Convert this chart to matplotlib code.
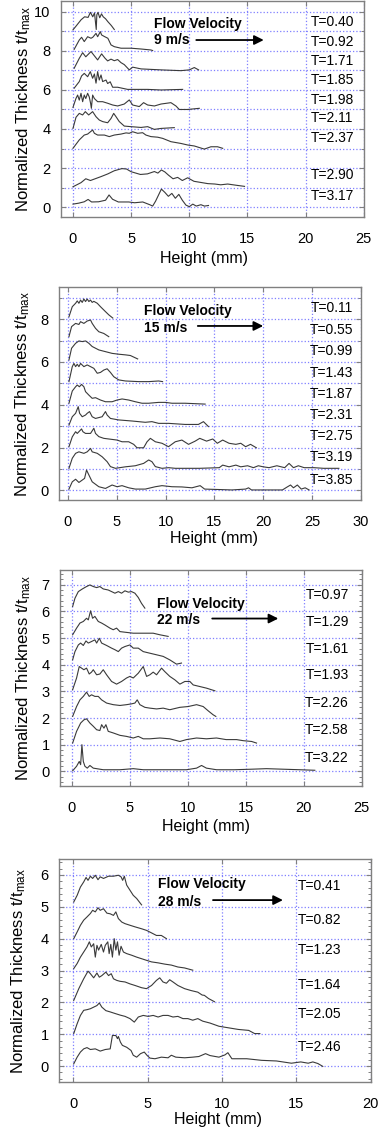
import numpy as np
import matplotlib
matplotlib.use("Agg")
import matplotlib.pyplot as plt
from matplotlib.ticker import MultipleLocator

plt.rcParams['font.family'] = 'Liberation Sans'
plt.rcParams['mathtext.fontset'] = 'custom'
plt.rcParams['mathtext.rm'] = 'Liberation Sans'
plt.rcParams['mathtext.it'] = 'Liberation Sans'

# ---- panel 1 : 9 m/s ----
p1_labels = ["T=0.40", "T=0.92", "T=1.71", "T=1.85", "T=1.98", "T=2.11", "T=2.37", "T=2.90", "T=3.17"]
p1_label_y = [9.5, 8.45, 7.5, 6.5, 5.5, 4.55, 3.55, 1.65, 0.55]

p1_t040_x = [0, 0.3, 0.7, 1.0, 1.3, 1.5, 1.7, 1.85, 2.0, 2.05, 2.15, 2.3, 2.45, 2.6, 2.8, 3.0, 3.3, 3.55]
p1_t040_y = [9.08, 9.3, 9.6, 9.75, 9.72, 9.98, 9.75, 9.95, 9.1, 9.85, 9.98, 9.7, 9.9, 9.75, 9.65, 9.5, 9.3, 9.1]
p1_t092_x = [0.1, 0.54, 0.74, 0.97, 1.26, 1.55, 1.7, 1.98, 2.12, 2.35, 2.46, 2.7, 3.0, 3.27, 3.55, 4.13, 5.0, 5.85, 6.7, 6.85]
p1_t092_y = [8.08, 8.56, 8.7, 8.48, 8.73, 8.65, 8.7, 8.9, 8.73, 8.99, 8.82, 8.74, 8.65, 8.31, 8.22, 8.14, 8.14, 8.1, 8.05, 8.02]
p1_t171_x = [0.1, 0.54, 0.83, 1.1, 1.55, 1.84, 2.12, 2.46, 2.75, 2.98, 3.27, 3.55, 3.84, 4.13, 4.41, 4.84, 5.13, 5.85, 7.57, 9.28, 10.0, 10.43, 10.8]
p1_t171_y = [7.11, 7.62, 7.91, 7.7, 7.97, 7.75, 7.54, 7.85, 7.63, 7.49, 7.58, 7.5, 7.56, 7.4, 7.3, 7.03, 7.17, 7.08, 7.03, 6.99, 7.03, 7.15, 7.03]
p1_t185_x = [0.1, 0.54, 0.74, 0.97, 1.26, 1.49, 1.69, 1.84, 1.98, 2.12, 2.26, 2.41, 2.55, 2.84, 2.98, 3.2, 3.41, 3.84, 4.7, 6.42, 7.57, 9.43]
p1_t185_y = [6.09, 6.43, 6.72, 6.85, 6.68, 6.94, 6.6, 6.82, 6.35, 6.94, 6.51, 6.77, 6.43, 6.51, 6.33, 6.42, 6.14, 6.14, 6.03, 6.03, 6.0, 6.03]
p1_t198_x = [0.0, 0.26, 0.4, 0.54, 0.69, 0.83, 0.97, 1.1, 1.26, 1.4, 1.52, 1.58, 1.69, 1.84, 2.12, 2.55, 2.98, 3.41, 3.84, 4.41, 4.84, 5.13, 5.7, 6.07, 6.42, 7.0, 7.57, 8.42, 8.85, 9.14, 9.86, 10.86]
p1_t198_y = [5.11, 5.57, 5.74, 5.48, 5.83, 5.4, 5.74, 5.56, 5.83, 5.64, 5.3, 5.06, 5.74, 5.56, 5.4, 5.4, 5.32, 5.23, 5.18, 5.28, 5.49, 5.23, 5.15, 5.35, 5.23, 5.18, 5.28, 5.35, 5.18, 5.0, 5.0, 5.06]
p1_t211_x = [0.0, 0.26, 0.54, 0.83, 1.06, 1.35, 1.69, 1.98, 2.26, 2.55, 2.98, 3.27, 3.5, 3.7, 3.98, 4.41, 4.99, 5.85, 6.42, 6.99, 7.57, 8.71]
p1_t211_y = [4.03, 4.6, 4.8, 4.72, 4.89, 4.72, 4.89, 4.63, 4.46, 4.38, 4.32, 4.54, 4.8, 4.63, 4.38, 4.15, 4.12, 4.08, 4.12, 3.98, 4.03, 4.07]
p1_t237_x = [0.0, 0.54, 0.97, 1.26, 1.69, 1.84, 2.12, 2.7, 3.12, 3.55, 4.13, 4.56, 4.84, 5.13, 5.56, 5.99, 6.27, 6.7, 7.28, 7.71, 8.42, 9.28, 9.86, 10.43, 11.29, 11.86, 12.43, 12.87]
p1_t237_y = [3.01, 3.44, 3.69, 3.74, 3.95, 3.78, 3.69, 3.69, 3.61, 3.69, 3.74, 3.8, 3.78, 3.86, 3.78, 3.81, 3.69, 3.61, 3.58, 3.52, 3.35, 3.26, 3.18, 3.13, 2.97, 3.09, 3.09, 3.01]
p1_t290_x = [0.0, 0.69, 1.1, 1.5, 2.41, 3.0, 3.55, 4.2, 4.6, 5.0, 5.4, 5.8, 6.4, 7.0, 7.3, 7.6, 7.9, 8.2, 8.6, 9.0, 9.4, 9.86, 10.4, 11.0, 11.6, 12.2, 12.7, 13.3, 14.0, 14.75]
p1_t290_y = [1.04, 1.25, 1.45, 1.36, 1.56, 1.7, 1.86, 1.97, 1.95, 1.81, 1.74, 1.67, 1.7, 1.82, 1.74, 1.9, 1.8, 1.64, 1.45, 1.52, 1.36, 1.5, 1.32, 1.26, 1.2, 1.18, 1.14, 1.18, 1.12, 1.06]
p1_t317_x = [0.0, 0.5, 0.97, 1.3, 1.6, 2.2, 2.8, 3.1, 3.4, 3.9, 4.8, 5.3, 6.0, 6.6, 6.85, 7.1, 7.6, 7.9, 8.2, 8.5, 8.8, 9.1, 9.4, 9.71, 10.0, 10.3, 10.6, 11.0, 11.3, 11.65]
p1_t317_y = [0.15, 0.2, 0.27, 0.39, 0.26, 0.27, 0.35, 0.62, 0.4, 0.26, 0.26, 0.22, 0.26, 0.12, 0.05, 0.3, 0.92, 0.75, 0.55, 0.7, 0.45, 0.65, 0.35, 0.1, 0.02, 0.15, 0.05, 0.12, 0.05, 0.08]

# ---- panel 2 : 15 m/s ----
p2_labels = ["T=0.11", "T=0.55", "T=0.99", "T=1.43", "T=1.87", "T=2.31", "T=2.75", "T=3.19", "T=3.85"]
p2_label_y = [8.5, 7.5, 6.5, 5.5, 4.5, 3.5, 2.55, 1.55, 0.5]

p2_t011_x = [0.1, 0.44, 0.78, 0.95, 1.12, 1.29, 1.46, 1.63, 1.8, 1.97, 2.14, 2.31, 2.48, 2.65, 3.0, 3.33, 3.84, 4.18, 4.59]
p2_t011_y = [8.11, 8.58, 8.74, 8.85, 8.74, 8.89, 8.78, 8.94, 8.82, 8.94, 8.82, 8.89, 8.78, 8.83, 8.74, 8.58, 8.35, 8.2, 8.05]
p2_t055_x = [0.1, 0.37, 0.78, 1.12, 1.29, 1.63, 1.97, 2.31, 2.48, 2.82, 3.16, 3.67, 4.18]
p2_t055_y = [7.18, 7.65, 7.8, 7.75, 7.88, 7.8, 7.91, 7.96, 7.8, 7.57, 7.41, 7.33, 7.18]
p2_t099_x = [0.1, 0.37, 0.78, 1.12, 1.46, 1.8, 2.14, 2.48, 3.16, 3.84, 4.52, 5.2, 5.88, 6.39, 7.14]
p2_t099_y = [6.09, 6.64, 6.87, 6.98, 6.95, 6.98, 6.87, 6.72, 6.56, 6.48, 6.4, 6.36, 6.33, 6.3, 6.14]
p2_t143_x = [0.1, 0.44, 0.61, 0.78, 0.95, 1.12, 1.29, 1.63, 1.97, 2.31, 2.65, 3.0, 3.33, 3.67, 4.01, 4.35, 4.69, 5.2, 5.88, 7.24, 8.27, 9.29, 9.69]
p2_t143_y = [5.08, 5.78, 5.93, 5.78, 5.89, 5.78, 5.93, 5.78, 5.86, 5.78, 5.7, 5.47, 5.51, 5.62, 5.68, 5.51, 5.31, 5.16, 5.11, 5.08, 5.08, 5.11, 5.08]
p2_t187_x = [0.1, 0.44, 0.78, 0.95, 1.17, 1.39, 1.63, 1.8, 2.14, 2.48, 2.82, 3.33, 3.84, 4.52, 5.03, 5.54, 6.22, 6.9, 7.58, 8.27, 9.29, 9.97, 10.65, 12.0, 14.05]
p2_t187_y = [4.07, 4.64, 4.84, 4.92, 4.84, 4.95, 4.84, 4.61, 4.45, 4.3, 4.33, 4.22, 4.14, 4.14, 4.22, 4.27, 4.22, 4.14, 4.07, 4.07, 4.11, 4.11, 4.07, 4.07, 4.03]
p2_t231_x = [0.1, 0.44, 0.78, 1.05, 1.19, 1.46, 1.8, 1.97, 2.21, 2.48, 2.82, 3.5, 3.84, 4.01, 4.35, 5.2, 6.56, 7.92, 8.6, 9.29, 10.31, 12.0, 13.36, 13.88, 14.39]
p2_t231_y = [3.05, 3.44, 3.6, 3.91, 3.6, 3.44, 3.52, 3.6, 3.68, 3.44, 3.36, 3.44, 3.68, 3.52, 3.36, 3.29, 3.24, 3.18, 3.21, 3.13, 3.13, 3.08, 3.08, 3.21, 2.98]
p2_t275_x = [0.1, 0.44, 0.78, 0.95, 1.12, 1.39, 1.53, 1.8, 2.31, 2.65, 2.82, 3.16, 3.67, 4.18, 5.03, 5.54, 6.22, 6.73, 7.07, 7.75, 8.1, 8.44, 8.95, 9.63, 10.3, 10.99, 11.67, 12.35, 13.03, 13.5, 14.2, 14.83, 15.3, 15.85, 16.5, 17.2, 17.7, 18.2, 18.7, 19.3]
p2_t275_y = [2.04, 2.5, 2.74, 2.66, 2.74, 2.87, 2.74, 2.66, 2.66, 2.9, 2.66, 2.51, 2.43, 2.4, 2.35, 2.27, 2.27, 2.15, 1.99, 1.99, 2.27, 2.43, 2.27, 2.2, 2.04, 2.27, 2.35, 2.15, 2.3, 2.43, 2.3, 2.4, 2.2, 2.35, 2.2, 2.15, 2.2, 2.04, 2.15, 1.99]
p2_t319_x = [0.1, 0.44, 0.78, 1.12, 1.63, 1.97, 2.31, 2.48, 3.0, 3.5, 4.01, 4.35, 4.86, 5.88, 6.9, 7.75, 8.27, 8.6, 8.95, 9.63, 10.3, 11.0, 12.5, 13.47, 15.5, 15.85, 16.5, 17.2, 17.7, 18.4, 19.0, 19.5, 20.0, 20.6, 21.4, 22.2, 22.65, 23.1, 23.6, 24.2, 25.2, 26.2, 27.2, 27.75]
p2_t319_y = [1.03, 1.5, 1.73, 1.8, 1.73, 1.8, 1.96, 1.8, 1.73, 1.57, 1.34, 1.11, 1.03, 1.1, 1.15, 1.26, 1.42, 1.34, 1.11, 1.03, 1.06, 1.03, 1.03, 1.03, 1.06, 1.18, 1.1, 1.18, 1.1, 1.15, 1.06, 1.15, 1.1, 1.06, 1.15, 1.06, 1.26, 1.06, 1.15, 1.06, 1.06, 1.03, 1.03, 1.03]
p2_t385_x = [0.1, 0.44, 0.78, 1.12, 1.46, 1.7, 1.9, 2.14, 2.48, 3.16, 3.84, 4.52, 5.03, 5.54, 6.22, 6.9, 7.92, 8.95, 9.63, 10.65, 11.67, 12.7, 13.54, 14.0, 16.8, 18.2, 18.5, 18.8, 21.97, 22.5, 22.8, 23.1, 23.5, 23.9, 24.3, 24.7]
p2_t385_y = [0.06, 0.4, 0.52, 0.37, 0.48, 0.56, 0.95, 0.72, 0.4, 0.17, 0.09, 0.25, 0.17, 0.22, 0.12, 0.06, 0.06, 0.17, 0.22, 0.17, 0.16, 0.12, 0.22, 0.06, 0.02, 0.06, 0.12, 0.02, 0.02, 0.17, 0.25, 0.12, 0.25, 0.06, 0.12, 0.02]

# ---- panel 3 : 22 m/s ----
p3_labels = ["T=0.97", "T=1.29", "T=1.61", "T=1.93", "T=2.26", "T=2.58", "T=3.22"]
p3_label_y = [6.6, 5.6, 4.6, 3.6, 2.55, 1.55, 0.5]

p3_t097_x = [0.06, 0.26, 0.55, 0.9, 1.26, 1.55, 1.84, 2.13, 2.41, 2.7, 3.13, 3.42, 3.71, 4.0, 4.28, 4.57, 4.86, 5.14, 5.43, 5.72, 6.0, 6.29]
p3_t097_y = [6.18, 6.49, 6.74, 6.84, 6.93, 6.99, 6.93, 6.89, 6.93, 6.84, 6.8, 6.74, 6.68, 6.74, 6.68, 6.77, 6.72, 6.74, 6.68, 6.52, 6.3, 6.12]
p3_t129_x = [0.06, 0.4, 0.69, 0.98, 1.26, 1.41, 1.61, 1.78, 1.98, 2.27, 2.56, 2.84, 3.28, 3.56, 3.85, 4.14, 4.71, 5.29, 6.15, 7.01, 7.59, 8.3]
p3_t129_y = [5.12, 5.37, 5.56, 5.62, 5.74, 5.68, 6.02, 5.74, 5.81, 5.62, 5.56, 5.49, 5.37, 5.31, 5.37, 5.24, 5.21, 5.18, 5.18, 5.18, 5.12, 5.06]
p3_t161_x = [0.06, 0.26, 0.55, 0.75, 0.98, 1.21, 1.41, 1.7, 1.98, 2.13, 2.36, 2.56, 2.99, 3.42, 3.71, 4.0, 4.28, 4.57, 5.0, 5.29, 5.72, 6.15, 6.72, 7.3, 7.87, 8.44, 9.02, 9.45]
p3_t161_y = [4.18, 4.49, 4.74, 4.81, 4.72, 4.89, 4.81, 4.87, 4.93, 4.81, 4.99, 4.81, 4.72, 4.62, 4.56, 4.49, 4.62, 4.68, 4.74, 4.62, 4.62, 4.49, 4.43, 4.37, 4.31, 4.18, 4.02, 4.06]
p3_t193_x = [0.06, 0.4, 0.63, 0.83, 1.03, 1.26, 1.49, 1.69, 1.84, 2.13, 2.41, 2.7, 2.99, 3.42, 3.85, 4.28, 4.71, 5.0, 5.29, 5.72, 6.15, 6.44, 6.72, 7.01, 7.3, 7.73, 8.01, 8.44, 8.88, 9.31, 9.74, 10.17, 10.46, 11.03, 11.6, 12.33]
p3_t193_y = [3.06, 3.5, 3.93, 3.87, 3.81, 3.87, 3.65, 3.72, 3.81, 3.62, 3.65, 3.81, 3.62, 3.37, 3.27, 3.37, 3.5, 3.56, 3.5, 3.68, 3.93, 3.56, 3.62, 3.72, 3.62, 3.87, 3.74, 3.56, 3.43, 3.27, 3.37, 3.37, 3.24, 3.18, 3.12, 3.02]
p3_t226_x = [0.06, 0.4, 0.69, 0.98, 1.26, 1.49, 1.69, 1.98, 2.27, 2.56, 2.99, 3.56, 4.14, 4.71, 5.14, 5.43, 5.63, 5.86, 6.29, 6.72, 7.3, 7.87, 8.44, 9.31, 10.03, 10.75, 11.32, 11.75, 12.18, 12.41]
p3_t226_y = [2.06, 2.43, 2.68, 2.81, 2.97, 2.81, 2.87, 2.81, 2.81, 2.68, 2.56, 2.5, 2.47, 2.5, 2.53, 2.56, 2.68, 2.5, 2.4, 2.37, 2.34, 2.37, 2.31, 2.4, 2.43, 2.5, 2.43, 2.27, 2.12, 2.06]
p3_t258_x = [0.06, 0.4, 0.75, 1.03, 1.26, 1.55, 1.84, 2.13, 2.41, 2.56, 2.76, 2.93, 3.13, 3.56, 4.14, 4.71, 5.29, 5.72, 6.15, 6.72, 7.59, 8.44, 9.31, 9.88, 10.75, 11.6, 12.47, 13.3, 14.2, 14.77, 15.5, 15.92]
p3_t258_y = [1.06, 1.5, 1.81, 1.93, 1.97, 1.81, 1.69, 1.56, 1.53, 1.75, 1.62, 1.75, 1.5, 1.44, 1.35, 1.31, 1.25, 1.31, 1.22, 1.22, 1.25, 1.22, 1.12, 1.19, 1.25, 1.22, 1.25, 1.19, 1.19, 1.15, 1.12, 1.06]
p3_t322_x = [0.06, 0.4, 0.63, 0.75, 0.86, 0.98, 1.12, 1.32, 1.55, 1.84, 2.7, 4.14, 5.29, 6.15, 7.59, 9.88, 10.75, 11.18, 11.6, 12.47, 14.0, 15.5, 16.78, 18.2, 19.66, 20.95]
p3_t322_y = [0.02, 0.19, 0.37, 0.25, 1.0, 0.37, 0.19, 0.12, 0.22, 0.12, 0.06, 0.06, 0.1, 0.06, 0.06, 0.06, 0.12, 0.22, 0.12, 0.06, 0.06, 0.08, 0.1, 0.08, 0.06, 0.04]

# ---- panel 4 : 28 m/s ----
p4_labels = ["T=0.41", "T=0.82", "T=1.23", "T=1.64", "T=2.05", "T=2.46"]
p4_label_y = [5.65, 4.6, 3.65, 2.55, 1.65, 0.6]

p4_t041_x = [0.04, 0.27, 0.49, 0.71, 0.87, 1.0, 1.16, 1.31, 1.49, 1.67, 1.82, 2.04, 2.38, 2.71, 3.04, 3.22, 3.33, 3.44, 3.6, 3.82, 4.04, 4.27, 4.6]
p4_t041_y = [5.15, 5.36, 5.62, 5.78, 5.92, 5.83, 5.96, 5.89, 5.99, 5.85, 5.94, 5.89, 5.96, 5.96, 5.99, 5.94, 5.83, 5.96, 5.68, 5.52, 5.36, 5.26, 5.06]
p4_t082_x = [0.04, 0.27, 0.49, 0.71, 0.93, 1.16, 1.31, 1.49, 1.67, 1.82, 2.04, 2.27, 2.49, 2.71, 2.87, 3.04, 3.27, 3.49, 3.82, 4.16, 4.6, 4.93, 5.27, 5.6, 5.93, 6.27]
p4_t082_y = [4.0, 4.21, 4.42, 4.58, 4.68, 4.79, 4.89, 4.84, 4.97, 4.89, 4.94, 4.8, 4.78, 4.73, 4.84, 4.63, 4.52, 4.47, 4.42, 4.37, 4.31, 4.26, 4.18, 4.1, 4.1, 4.0]
p4_t123_x = [0.04, 0.27, 0.49, 0.71, 0.93, 1.09, 1.22, 1.38, 1.49, 1.6, 1.71, 1.89, 2.04, 2.16, 2.33, 2.42, 2.53, 2.64, 2.76, 2.87, 2.98, 3.09, 3.22, 3.38, 3.6, 3.93, 4.27, 4.6, 4.93, 5.27, 5.71, 6.16, 6.6, 7.04, 7.49, 8.04]
p4_t123_y = [3.06, 3.22, 3.42, 3.58, 3.74, 3.9, 3.74, 3.84, 3.42, 3.79, 3.64, 3.82, 3.58, 3.79, 3.9, 3.53, 3.82, 3.42, 4.0, 3.64, 3.9, 3.48, 3.76, 3.58, 3.53, 3.48, 3.42, 3.37, 3.32, 3.27, 3.24, 3.2, 3.17, 3.11, 3.08, 3.01]
p4_t164_x = [0.04, 0.38, 0.71, 1.0, 1.16, 1.38, 1.6, 1.76, 1.93, 2.2, 2.38, 2.56, 2.71, 2.93, 3.16, 3.49, 3.82, 4.16, 4.6, 4.93, 5.27, 5.6, 5.82, 6.04, 6.27, 6.49, 6.71, 7.04, 7.49, 7.93, 8.38, 8.67, 8.82, 9.1, 9.5]
p4_t164_y = [2.06, 2.43, 2.74, 2.98, 2.9, 2.77, 2.92, 2.79, 2.84, 2.95, 2.84, 2.9, 2.74, 2.69, 2.66, 2.64, 2.58, 2.53, 2.46, 2.43, 2.53, 2.69, 2.77, 2.64, 2.6, 2.71, 2.64, 2.53, 2.43, 2.37, 2.32, 2.23, 2.22, 2.12, 2.02]
p4_t205_x = [0.04, 0.27, 0.49, 0.71, 0.93, 1.16, 1.38, 1.6, 1.76, 1.93, 2.2, 2.49, 2.82, 3.16, 3.49, 3.82, 4.11, 4.38, 4.71, 5.04, 5.38, 5.71, 6.04, 6.38, 6.71, 7.04, 7.38, 7.71, 8.04, 8.38, 8.71, 9.2, 9.8, 10.45, 11.1, 11.8, 12.2, 12.55]
p4_t205_y = [1.02, 1.33, 1.59, 1.75, 1.77, 1.8, 1.85, 1.9, 1.98, 1.85, 1.74, 1.7, 1.65, 1.6, 1.56, 1.49, 1.38, 1.54, 1.59, 1.56, 1.59, 1.54, 1.59, 1.59, 1.54, 1.56, 1.49, 1.49, 1.44, 1.49, 1.41, 1.35, 1.25, 1.2, 1.15, 1.12, 1.02, 1.02]
p4_t246_x = [0.04, 0.27, 0.49, 0.71, 0.93, 1.16, 1.49, 1.82, 2.16, 2.49, 2.64, 2.87, 2.98, 3.04, 3.18, 3.31, 3.6, 3.89, 4.04, 4.27, 4.53, 4.78, 4.96, 5.16, 5.5, 5.93, 6.38, 6.6, 6.9, 7.5, 8.04, 8.45, 8.9, 9.2, 9.8, 10.2, 10.4, 10.67, 11.67, 12.67, 13.67, 14.67, 15.3, 15.8, 16.11, 16.45, 16.78]
p4_t246_y = [0.07, 0.28, 0.44, 0.54, 0.58, 0.52, 0.54, 0.47, 0.52, 0.54, 0.96, 0.96, 0.86, 0.93, 0.75, 0.65, 0.59, 0.49, 0.34, 0.28, 0.39, 0.44, 0.34, 0.25, 0.23, 0.28, 0.26, 0.34, 0.28, 0.26, 0.28, 0.3, 0.39, 0.33, 0.28, 0.35, 0.42, 0.23, 0.23, 0.18, 0.16, 0.09, 0.13, 0.09, 0.13, 0.08, -0.01]


W, H = 381, 1134
fig = plt.figure(figsize=(W / 100, H / 100), dpi=100)

GRAY = '#808080'
GRID = '#7f7fff'


def make_axes(left, right, top, bottom):
    return fig.add_axes([left / W, 1 - bottom / H, (right - left) / W, (bottom - top) / H])


def style(ax, xlim, ylim, ymaj, ymin, ygrid_minor, xlab_dx, xlab_dy, ylab_x):
    ax.set_xlim(*xlim)
    ax.set_ylim(*ylim)
    ax.xaxis.set_major_locator(MultipleLocator(5))
    ax.yaxis.set_major_locator(MultipleLocator(ymaj))
    ax.yaxis.set_minor_locator(MultipleLocator(ymin))
    for s in ax.spines.values():
        s.set_color(GRAY)
        s.set_linewidth(1.0)
    ax.tick_params(which='both', direction='in', top=True, right=True,
                   color=GRAY, labelsize=10.5)
    ax.tick_params(which='major', length=3.5, width=0.8)
    ax.tick_params(which='minor', length=2.2, width=0.7)
    ax.tick_params(axis='x', pad=10.5)
    ax.tick_params(axis='y', pad=7.5)
    ax.grid(which='major', color=GRID, linestyle=':', linewidth=0.9)
    if ygrid_minor:
        ax.grid(which='minor', axis='y', color=GRID, linestyle=':', linewidth=0.9)
    ax.set_axisbelow(True)
    ax.set_xlabel('Height (mm)', fontsize=11.5)
    ax.set_ylabel(r'Normalized Thickness t/t$_{\mathrm{max}}$', fontsize=12)
    ax.xaxis.set_label_coords(0.5 + xlab_dx, xlab_dy)
    ax.yaxis.set_label_coords(ylab_x, 0.5)


def draw(ax, curves, labels, label_x, label_y, flow_x, flow_y, speed, arrow):
    for cx, cy in curves:
        ax.plot(cx, cy, color='#3a3a3a', linewidth=0.8)
    for lab, ly in zip(labels, label_y):
        ax.text(label_x, ly, lab, ha='center', va='center', fontsize=10)
    ax.text(flow_x, flow_y[0], 'Flow Velocity', fontweight='bold', fontsize=10,
            ha='left', va='center')
    ax.text(flow_x, flow_y[1], speed, fontweight='bold', fontsize=10,
            ha='left', va='center')
    ax.annotate('', xy=(arrow[1], arrow[2]), xytext=(arrow[0], arrow[2]),
                arrowprops=dict(arrowstyle='-|>', color='black', lw=1.3,
                                mutation_scale=14, shrinkA=0, shrinkB=0))


ax1 = make_axes(61, 364, 1, 217)
style(ax1, (-1.03, 25.02), (-0.51, 10.56), 2, 1, True, -0.028, -0.156, -0.092)
draw(ax1, [(p1_t040_x, p1_t040_y), (p1_t092_x, p1_t092_y), (p1_t171_x, p1_t171_y),
           (p1_t185_x, p1_t185_y), (p1_t198_x, p1_t198_y), (p1_t211_x, p1_t211_y),
           (p1_t237_x, p1_t237_y), (p1_t290_x, p1_t290_y), (p1_t317_x, p1_t317_y)],
     p1_labels, 22.3, p1_label_y, 6.96, (9.4, 8.56), '9 m/s', (10.6, 16.4, 8.56))

ax2 = make_axes(59, 361, 287, 500)
style(ax2, (-0.92, 30.02), (-0.45, 9.5), 2, 1, True, 0.013, -0.144, -0.09)
draw(ax2, [(p2_t011_x, p2_t011_y), (p2_t055_x, p2_t055_y), (p2_t099_x, p2_t099_y),
           (p2_t143_x, p2_t143_y), (p2_t187_x, p2_t187_y), (p2_t231_x, p2_t231_y),
           (p2_t275_x, p2_t275_y), (p2_t319_x, p2_t319_y), (p2_t385_x, p2_t385_y)],
     p2_labels, 27.0, p2_label_y, 7.8, (8.38, 7.6), '15 m/s', (13.3, 20.0, 7.68))

ax3 = make_axes(60, 362, 570, 786)
style(ax3, (-1.03, 25.02), (-0.55, 7.55), 1, 0.2, False, -0.017, -0.153, -0.09)
draw(ax3, [(p3_t097_x, p3_t097_y), (p3_t129_x, p3_t129_y), (p3_t161_x, p3_t161_y),
           (p3_t193_x, p3_t193_y), (p3_t226_x, p3_t226_y), (p3_t258_x, p3_t258_y),
           (p3_t322_x, p3_t322_y)],
     p3_labels, 22.0, p3_label_y, 7.35, (6.29, 5.67), '22 m/s', (12.1, 17.8, 5.73))

ax4 = make_axes(59, 371, 859, 1082)
style(ax4, (-0.95, 20.02), (-0.5, 6.5), 1, 0.2, False, 0.01, -0.133, -0.1)
draw(ax4, [(p4_t041_x, p4_t041_y), (p4_t082_x, p4_t082_y), (p4_t123_x, p4_t123_y),
           (p4_t164_x, p4_t164_y), (p4_t205_x, p4_t205_y), (p4_t246_x, p4_t246_y)],
     p4_labels, 16.55, p4_label_y, 5.7, (5.71, 5.16), '28 m/s', (9.4, 14.1, 5.21))

fig.savefig('out.png', dpi=100)
